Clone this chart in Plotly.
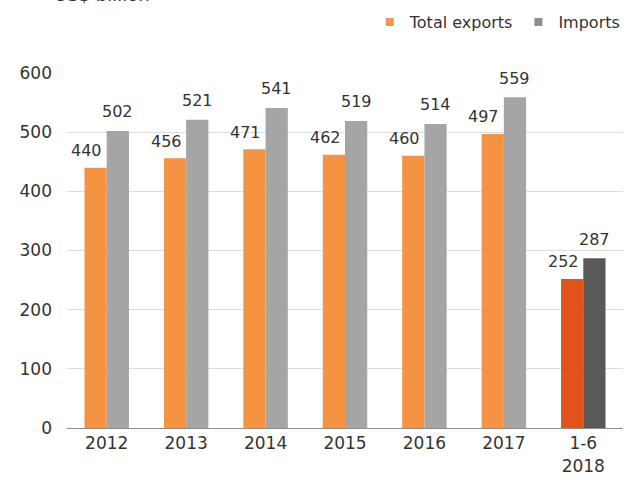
import plotly.graph_objects as go

# Annual trade values, US$ billion
categories = ["2012", "2013", "2014", "2015", "2016", "2017", "1-6<br>2018"]
exports = [440, 456, 471, 462, 460, 497, 252]
imports = [502, 521, 541, 519, 514, 559, 287]

export_colors = ["#F59342"] * 6 + ["#E2531A"]
import_colors = ["#A5A5A5"] * 6 + ["#595959"]

W, H = 626, 482
M_L, M_R, M_T, M_B = 67, 0, 73, 54
plot_w = W - M_L - M_R
plot_h = H - M_T - M_B

font = "DejaVu Sans, Verdana, sans-serif"
text_col = "#333333"

fig = go.Figure()
fig.add_trace(go.Bar(name="Total exports", x=categories, y=exports,
                     marker=dict(color=export_colors, line_width=0),
                     showlegend=False))
fig.add_trace(go.Bar(name="Imports", x=categories, y=imports,
                     marker=dict(color=import_colors, line_width=0),
                     showlegend=False))
# small square legend keys
for name, col in [("Total exports", "#F0955A"), ("Imports", "#8F8F8F")]:
    fig.add_trace(go.Scatter(name=name, x=[None], y=[None], mode="markers",
                             marker=dict(symbol="square", size=8, color=col)))

# value labels; x given as category index (numeric-looking strings would be
# read as indices on a category axis)
ann = []
for i, v in enumerate(exports):
    ann.append(dict(x=i, y=v, text=str(v), showarrow=False, xref="x", yref="y",
                    xshift=-20, yshift=17, yanchor="middle",
                    font=dict(size=16, color=text_col, family=font)))
for i, v in enumerate(imports):
    ann.append(dict(x=i, y=v, text=str(v), showarrow=False, xref="x", yref="y",
                    xshift=11, yshift=19, yanchor="middle",
                    font=dict(size=16, color=text_col, family=font)))
# unit label at the top-left corner
ann.append(dict(x=(52 - M_L) / plot_w, y=1 + (M_T - 7) / plot_h,
                xref="paper", yref="paper", text="US$ billion", showarrow=False,
                xanchor="left", yanchor="bottom",
                font=dict(size=18, color=text_col, family=font)))

fig.update_layout(
    width=W, height=H,
    margin=dict(l=M_L, r=M_R, t=M_T, b=M_B),
    paper_bgcolor="white", plot_bgcolor="white",
    barmode="group", bargap=0.44, bargroupgap=0,
    font=dict(family=font, size=16, color=text_col),
    showlegend=True,
    legend=dict(orientation="h", x=1.005, xanchor="right",
                y=1 + (M_T - 22) / plot_h, yanchor="middle",
                font=dict(size=16, color=text_col),
                itemwidth=30, tracegroupgap=0),
    annotations=ann,
    xaxis=dict(type="category", range=[-0.5, len(categories) - 0.5],
               showgrid=False, showline=True,
               linecolor="#8C8C8C", linewidth=1, ticks="",
               tickfont=dict(size=17, color=text_col)),
    yaxis=dict(range=[0, 600], dtick=100, showgrid=True, gridcolor="#DDDDDD",
               gridwidth=1, zeroline=False, showline=False, ticks="",
               ticklabelstandoff=14, tickfont=dict(size=17, color=text_col)),
)

fig.write_html("out.html")
